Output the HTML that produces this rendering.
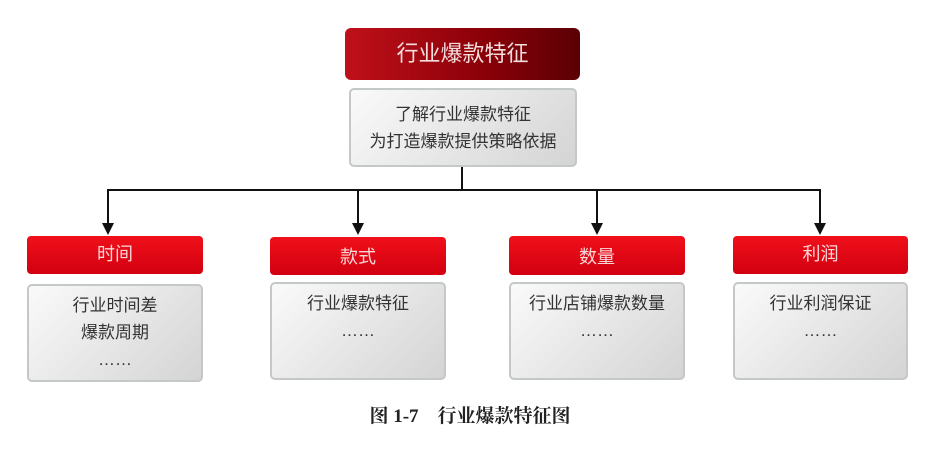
<!DOCTYPE html>
<html><head><meta charset="utf-8"><style>
body{margin:0;width:942px;height:458px;background:#fff;position:relative;overflow:hidden;font-family:"Liberation Sans","Noto Sans CJK SC",sans-serif;}
.b{position:absolute;box-sizing:border-box;text-align:center;}
.red{background:linear-gradient(#f0101a,#d20010);border-radius:4px;color:#fbd8d8;font-size:18px;}
.gray{background:linear-gradient(135deg,#fafafa,#d4d4d4);border:2px solid #c4c8c6;border-radius:5px;color:#333;font-size:17px;line-height:27px;}
.l{position:absolute;background:#111;}
.ar{position:absolute;width:0;height:0;border-left:6px solid transparent;border-right:6px solid transparent;border-top:12px solid #111;}
</style></head><body>
<div class="b" style="left:345px;top:28px;width:235px;height:52px;background:linear-gradient(90deg,#c0101a,#8a0008 60%,#5a0005);border-radius:6px;color:#f3dede;font-size:22px;line-height:52px;">行业爆款特征</div>
<div class="b gray" style="left:349px;top:88px;width:228px;height:79px;padding-top:11px;">了解行业爆款特征<br>为打造爆款提供策略依据</div>
<div class="l" style="left:461px;top:167px;width:2px;height:23px"></div>
<div class="l" style="left:107px;top:189px;width:714px;height:2px"></div>
<div class="l" style="left:107px;top:189px;width:2px;height:36px"></div>
<div class="l" style="left:357px;top:189px;width:2px;height:36px"></div>
<div class="l" style="left:596px;top:189px;width:2px;height:36px"></div>
<div class="l" style="left:819px;top:189px;width:2px;height:36px"></div>
<div class="ar" style="left:102px;top:223px"></div>
<div class="ar" style="left:352px;top:223px"></div>
<div class="ar" style="left:591px;top:223px"></div>
<div class="ar" style="left:814px;top:223px"></div>
<div class="b red" style="left:27px;top:236px;width:176px;height:38px;line-height:36px">时间</div>
<div class="b red" style="left:270px;top:237px;width:176px;height:38px;line-height:40px">款式</div>
<div class="b red" style="left:509px;top:236px;width:176px;height:39px;line-height:42px">数量</div>
<div class="b red" style="left:733px;top:236px;width:175px;height:38px;line-height:36px">利润</div>
<div class="b gray" style="left:27px;top:284px;width:176px;height:98px;padding-top:6px">行业时间差<br>爆款周期<br>……</div>
<div class="b gray" style="left:270px;top:282px;width:176px;height:98px;padding-top:6px">行业爆款特征<br>……</div>
<div class="b gray" style="left:509px;top:282px;width:176px;height:98px;padding-top:6px">行业店铺爆款数量<br>……</div>
<div class="b gray" style="left:733px;top:282px;width:175px;height:98px;padding-top:6px">行业利润保证<br>……</div>
<div class="b" style="left:320px;top:401px;width:300px;font-family:'Liberation Serif','Noto Serif CJK SC',serif;font-size:19px;font-weight:bold;color:#222;">图 1-7　行业爆款特征图</div>
</body></html>
